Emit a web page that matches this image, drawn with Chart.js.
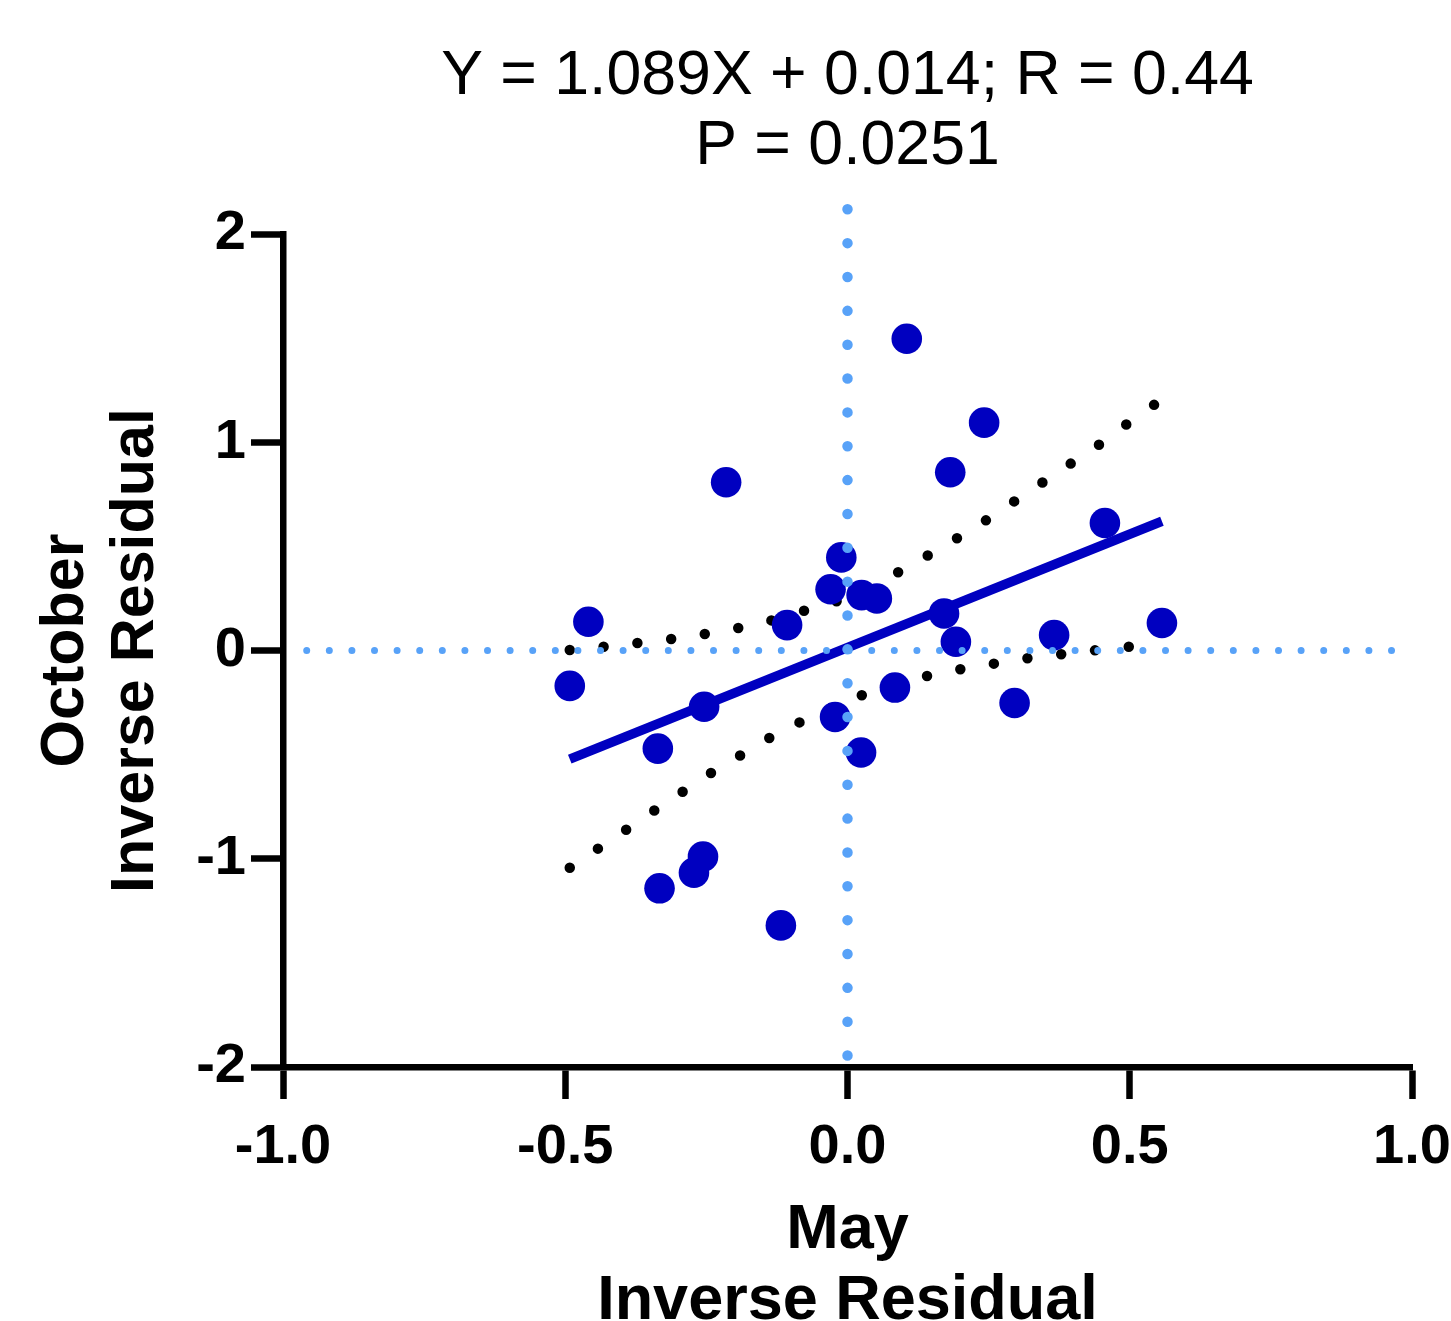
<!DOCTYPE html>
<html>
<head>
<meta charset="utf-8">
<script src="https://cdn.jsdelivr.net/npm/chart.js@4.4.0/dist/chart.umd.min.js"></script>
<style>
  html, body { margin: 0; padding: 0; background: #ffffff; }
  #wrap { width: 1451px; height: 1321px; }
</style>
</head>
<body>
<div id="wrap"><canvas id="chart" width="1451" height="1321"></canvas></div>
<script>
// Paired residuals: May (x) against October (y)
const mayResidual = [0.105, 0.242, 0.182, -0.215, 0.456, -0.011, -0.030, 0.025, 0.052, 0.171,
                     -0.459, -0.107, 0.557, 0.192, 0.366, -0.492, 0.084, -0.254, 0.296, -0.022,
                     -0.336, 0.024, -0.256, -0.272, -0.333, -0.118];
const octoberResidual = [1.497, 1.094, 0.856, 0.808, 0.612, 0.447, 0.294, 0.266, 0.250, 0.178,
                         0.138, 0.122, 0.132, 0.042, 0.074, -0.170, -0.178, -0.270, -0.252, -0.319,
                         -0.471, -0.490, -0.990, -1.067, -1.142, -1.320];

// Linear fit stated in the title
const fitSlope = 1.089;
const fitIntercept = 0.014;

// 95% confidence band of the fit
const upperBandX = [-0.492, -0.433, -0.373, -0.313, -0.254, -0.194, -0.137, -0.079, -0.022, 0.033,
                    0.088, 0.140, 0.192, 0.243, 0.293, 0.341, 0.394, 0.442, 0.492, 0.557];
const upperBandY = [0.002, 0.018, 0.036, 0.055, 0.079, 0.108, 0.143, 0.189, 0.234, 0.300,
                    0.373, 0.453, 0.536, 0.621, 0.712, 0.799, 0.895, 0.981, 1.082, 1.206];
const lowerBandX = [-0.492, -0.443, -0.393, -0.343, -0.294, -0.244, -0.192, -0.141, -0.088, -0.033,
                    0.022, 0.080, 0.136, 0.196, 0.255, 0.314, 0.373, 0.433, 0.493, 0.557];
const lowerBandY = [-1.043, -0.953, -0.862, -0.770, -0.682, -0.592, -0.507, -0.424, -0.349, -0.281,
                    -0.218, -0.170, -0.126, -0.092, -0.065, -0.039, -0.020, -0.001, 0.017, 0.032];

// Zero reference lines
const zeroLineXSpan = [-0.958, 0.995];
const zeroLineYSpan = [-1.945, 2.13];

// Axis ticks and text
const xTickValues = [-1.0, -0.5, 0.0, 0.5, 1.0];
const yTickValues = [-2, -1, 0, 1, 2];
const titleLines = ['Y = 1.089X + 0.014; R = 0.44', 'P = 0.0251'];
const xTitleLines = ['May', 'Inverse Residual'];
const yTitleLines = ['October', 'Inverse Residual'];

const FONT = "'Liberation Sans', Arial, Helvetica, sans-serif";
const POINT_BLUE = '#0000C0';
const REF_BLUE = '#58A2F8';
const AXIS_WIDTH = 6.5;

const points = mayResidual.map((x, i) => ({ x: x, y: octoberResidual[i] }));
const xMin = Math.min(...mayResidual);
const xMax = Math.max(...mayResidual);
const fitLine = [xMin, xMax].map(x => ({ x: x, y: fitSlope * x + fitIntercept }));
const upperBand = upperBandX.map((x, i) => ({ x: x, y: upperBandY[i] }));
const lowerBand = lowerBandX.map((x, i) => ({ x: x, y: lowerBandY[i] }));

new Chart(document.getElementById('chart').getContext('2d'), {
  type: 'scatter',
  data: {
    datasets: [
      {
        label: 'x = 0',
        type: 'line',
        data: zeroLineYSpan.map(y => ({ x: 0, y: y })),
        showLine: true,
        borderColor: REF_BLUE,
        borderWidth: 10.5,
        borderDash: [0, 33.85],
        borderCapStyle: 'round',
        pointRadius: 0,
        clip: false,
        order: 0
      },
      {
        label: 'y = 0',
        type: 'line',
        data: zeroLineXSpan.map(x => ({ x: x, y: 0 })),
        showLine: true,
        borderColor: REF_BLUE,
        borderWidth: 7,
        borderDash: [0, 22.6],
        borderCapStyle: 'round',
        pointRadius: 0,
        clip: false,
        order: 0
      },
      {
        label: 'Residuals',
        data: points,
        backgroundColor: POINT_BLUE,
        borderWidth: 0,
        pointRadius: 15.3,
        pointHoverRadius: 15.3,
        clip: false,
        order: 1
      },
      {
        label: 'Fit',
        type: 'line',
        data: fitLine,
        showLine: true,
        borderColor: POINT_BLUE,
        borderWidth: 9.5,
        borderCapStyle: 'butt',
        pointRadius: 0,
        order: 2
      },
      {
        label: 'Upper 95% band',
        type: 'line',
        data: upperBand,
        showLine: true,
        borderColor: '#000000',
        borderWidth: 10.5,
        borderDash: [0, 34],
        borderCapStyle: 'round',
        cubicInterpolationMode: 'monotone',
        pointRadius: 0,
        order: 3
      },
      {
        label: 'Lower 95% band',
        type: 'line',
        data: lowerBand,
        showLine: true,
        borderColor: '#000000',
        borderWidth: 10.5,
        borderDash: [0, 34],
        borderCapStyle: 'round',
        cubicInterpolationMode: 'monotone',
        pointRadius: 0,
        order: 3
      }
    ]
  },
  options: {
    responsive: false,
    animation: false,
    devicePixelRatio: 1,
    layout: { padding: { left: 0, right: 39, top: 0, bottom: 0 } },
    plugins: {
      legend: { display: false },
      tooltip: { enabled: false },
      title: {
        display: true,
        fullSize: false,
        text: titleLines,
        color: '#000000',
        font: { family: FONT, size: 62.6, weight: 'normal', lineHeight: 70 / 62.6 },
        padding: { top: 41.5, bottom: 52.5 }
      }
    },
    scales: {
      x: {
        type: 'linear',
        position: 'bottom',
        min: -1,
        max: 1,
        afterBuildTicks: s => { s.ticks = xTickValues.map(v => ({ value: v })); },
        afterFit: s => { s.height = 254; s.paddingLeft = 0; s.paddingRight = 0; },
        ticks: {
          autoSkip: false,
          maxRotation: 0,
          color: '#000000',
          padding: 15,
          font: { family: FONT, size: 56, weight: 'bold' },
          callback: v => Number(v).toFixed(1)
        },
        grid: { display: true, drawOnChartArea: false, drawTicks: true, tickLength: 32, tickWidth: AXIS_WIDTH, tickColor: '#000000' },
        border: { display: true, color: '#000000', width: AXIS_WIDTH },
        title: {
          display: true,
          text: xTitleLines,
          color: '#000000',
          font: { family: FONT, size: 63, weight: 'bold', lineHeight: 71 / 63 },
          padding: { top: 0, bottom: -16 }
        }
      },
      y: {
        type: 'linear',
        position: 'left',
        min: -2,
        max: 2,
        afterBuildTicks: s => { s.ticks = yTickValues.map(v => ({ value: v })); },
        afterFit: s => { s.width = 283; s.paddingTop = 0; s.paddingBottom = 0; },
        ticks: {
          autoSkip: false,
          color: '#000000',
          padding: 5,
          font: { family: FONT, size: 56, weight: 'bold' },
          callback: v => String(v)
        },
        grid: { display: true, drawOnChartArea: false, drawTicks: true, tickLength: 32, tickWidth: AXIS_WIDTH, tickColor: '#000000' },
        border: { display: true, color: '#000000', width: AXIS_WIDTH },
        title: {
          display: true,
          text: yTitleLines,
          color: '#000000',
          font: { family: FONT, size: 61, weight: 'bold', lineHeight: 70 / 61 },
          padding: { top: 31.5, bottom: 0 }
        }
      }
    }
  }
});
</script>
</body>
</html>
